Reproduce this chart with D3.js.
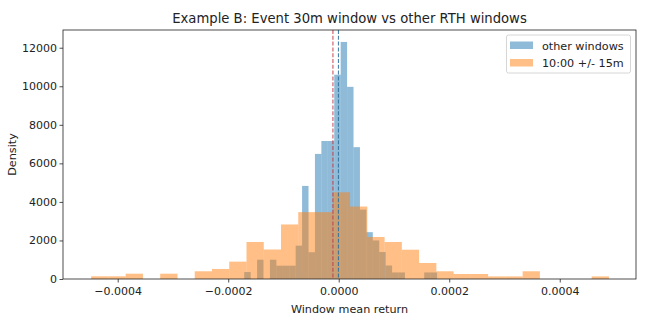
<!DOCTYPE html>
<html>
<head>
<meta charset="utf-8">
<script src="https://cdn.jsdelivr.net/npm/d3@7"></script>
<style>
  body { margin: 0; background: #fff; }
  text { font-family: "DejaVu Sans", sans-serif; fill: #222; }
</style>
</head>
<body>
<div class="chart"></div>
<script>

// histogram bins: [first edge, last edge], 30 bins each
var otherRange = [-0.000171, 0.000178];
var eventRange = [-0.000448, 0.000489];

// density per bin
var otherDensity = [360, 0, 1000, 0, 1000, 690, 690, 690, 1730, 4830,
    1390, 6490, 7160, 7160, 10600, 12300, 9970, 6840, 3600, 2430,
    2000, 1400, 700, 340, 340, 0, 0, 0, 340, 340];
var eventDensity = [140, 140, 275, 0, 275, 0, 400, 520, 900, 1920,
    1530, 2830, 3470, 3470, 4500, 3760, 2180, 1920, 1520, 830,
    400, 260, 260, 135, 135, 400, 0, 0, 0, 135];

var otherMean = -0.0000005;
var eventMean = -0.0000105;

var seriesNames = ["other windows", "10:00 +/- 15m"];
var xTicks = [-0.0004, -0.0002, 0, 0.0002, 0.0004];
var yTicks = [0, 2000, 4000, 6000, 8000, 10000, 12000];

var width = 650;
var height = 325;
var plotLeft = 63, plotRight = 636, plotTop = 30, plotBottom = 279;

var svg = d3.select('.chart')
    .append('svg')
    .attr('width', width)
    .attr('height', height);

var scaleX = d3.scaleLinear()
    .domain([-0.000499, 0.000538])
    .range([plotLeft, plotRight]);

var scaleY = d3.scaleLinear()
    .domain([0, 12920])
    .range([plotBottom, plotTop]);

function toBins(range, values) {
    var step = (range[1] - range[0]) / values.length;
    return values.map(function (v, i) {
        return { x0: range[0] + i * step, x1: range[0] + (i + 1) * step, v: v };
    });
}

var series = [
    { bins: toBins(otherRange, otherDensity), color: "#1f77b4" },
    { bins: toBins(eventRange, eventDensity), color: "#ff7f0e" }
];

series.forEach(function (s) {
    svg.append('g')
        .selectAll('rect')
        .data(s.bins.filter(d => d.v > 0))
        .enter()
        .append('rect')
        .attr('x', d => scaleX(d.x0))
        .attr('y', d => scaleY(d.v))
        .attr('width', d => scaleX(d.x1) - scaleX(d.x0))
        .attr('height', d => scaleY(0) - scaleY(d.v))
        .attr('fill', s.color)
        .attr('fill-opacity', 0.5);
});

// mean lines
[[eventMean, "#c23b45"], [otherMean, "#2c6e9c"]].forEach(function (m) {
    svg.append('line')
        .attr('x1', scaleX(m[0]))
        .attr('x2', scaleX(m[0]))
        .attr('y1', plotTop)
        .attr('y2', plotBottom)
        .attr('stroke', m[1])
        .attr('stroke-width', 1.1)
        .attr('stroke-opacity', 0.85)
        .attr('stroke-dasharray', '4,1.8');
});

var axisX = d3.axisBottom(scaleX)
    .tickValues(xTicks)
    .tickFormat(d3.format(".4f"))
    .tickSize(3.5)
    .tickSizeOuter(0);

var axisY = d3.axisLeft(scaleY)
    .tickValues(yTicks)
    .tickFormat(d3.format("d"))
    .tickSize(3.5)
    .tickSizeOuter(0);

var gx = svg.append('g')
    .attr('transform', 'translate(0,' + plotBottom + ')')
    .call(axisX);
var gy = svg.append('g')
    .attr('transform', 'translate(' + plotLeft + ',0)')
    .call(axisY);

[gx, gy].forEach(function (g) {
    g.select('.domain').remove();
    g.selectAll('line').attr('stroke', '#222').attr('stroke-width', 0.8);
    g.selectAll('text').attr('font-size', 11).attr('fill', '#222')
        .style('font-family', '"DejaVu Sans", sans-serif');
});
gx.selectAll('text').attr('dy', '0.9em');
gy.selectAll('text').attr('x', -6);

// frame
svg.append('rect')
    .attr('x', plotLeft)
    .attr('y', plotTop)
    .attr('width', plotRight - plotLeft)
    .attr('height', plotBottom - plotTop)
    .attr('fill', 'none')
    .attr('stroke', '#222')
    .attr('stroke-width', 0.8);

svg.append('text')
    .attr('x', (plotLeft + plotRight) / 2)
    .attr('y', 23)
    .attr('text-anchor', 'middle')
    .attr('font-size', 13.2)
    .text("Example B: Event 30m window vs other RTH windows");

svg.append('text')
    .attr('x', (plotLeft + plotRight) / 2)
    .attr('y', 313)
    .attr('text-anchor', 'middle')
    .attr('font-size', 11.2)
    .text("Window mean return");

svg.append('text')
    .attr('transform', 'translate(16,' + ((plotTop + plotBottom) / 2) + ') rotate(-90)')
    .attr('text-anchor', 'middle')
    .attr('font-size', 11.2)
    .text("Density");

// legend
var legend = svg.append('g');
legend.append('rect')
    .attr('x', 506.5)
    .attr('y', 35)
    .attr('width', 124)
    .attr('height', 38)
    .attr('rx', 2)
    .attr('fill', '#fff')
    .attr('fill-opacity', 0.8)
    .attr('stroke', '#ccc')
    .attr('stroke-width', 0.8);

seriesNames.forEach(function (name, i) {
    legend.append('rect')
        .attr('x', 510)
        .attr('y', 41.5 + i * 17.5)
        .attr('width', 23)
        .attr('height', 7.5)
        .attr('fill', series[i].color)
        .attr('fill-opacity', 0.5);
    legend.append('text')
        .attr('x', 542)
        .attr('y', 49.5 + i * 17.5)
        .attr('font-size', 11.2)
        .text(name);
});

</script>
</body>
</html>
